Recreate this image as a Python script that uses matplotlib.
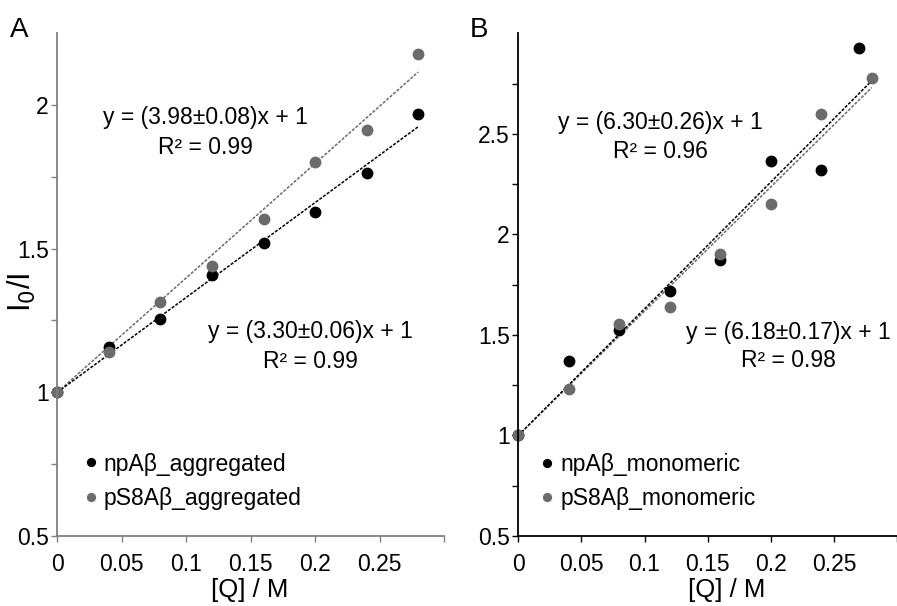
import numpy as np
import matplotlib.pyplot as plt

plt.rcParams['font.family'] = ['Liberation Sans', 'DejaVu Sans']

# Konzentration des Quenchers
q_a = [0, 0.04, 0.08, 0.12, 0.16, 0.2, 0.24, 0.28]
q_b_np = [0, 0.04, 0.08, 0.12, 0.16, 0.2, 0.24, 0.27]
q_b_ps = [0, 0.04, 0.08, 0.12, 0.16, 0.2, 0.24, 0.28]

# Panel A: aggregiert
np_agg = [1.0, 1.158, 1.255, 1.409, 1.519, 1.627, 1.762, 1.968]
ps_agg = [1.0, 1.14, 1.313, 1.439, 1.602, 1.80, 1.914, 2.177]

# Panel B: monomer
np_mono = [1.0, 1.372, 1.522, 1.72, 1.871, 2.363, 2.322, 2.927]
ps_mono = [1.0, 1.232, 1.556, 1.639, 1.902, 2.149, 2.597, 2.778]

# Steigungen der Stern-Volmer-Fits
k_np_agg, k_ps_agg = 3.30, 3.98
k_np_mono, k_ps_mono = 6.30, 6.18
fit_end = 0.28

schwarz = 'black'
grau = '#6b6b6b'
fs = 16.5

fig = plt.figure(figsize=(8.97, 6.06), dpi=100)
ax_a = fig.add_axes([57.3 / 897, 1 - 536 / 606, (444 - 57.3) / 897, (536 - 33) / 606])
ax_b = fig.add_axes([518.3 / 897, 1 - 536 / 606, (897 - 518.3) / 897, (536 - 33.3) / 606])


def stil(ax, achsenfarbe, ymax, yticks):
    for s in ['top', 'right']:
        ax.spines[s].set_visible(False)
    for s in ['left', 'bottom']:
        ax.spines[s].set_color(achsenfarbe)
        ax.spines[s].set_linewidth(1.3)
    ax.set_ylim(0.5, ymax)
    ax.set_yticks(yticks)
    ax.set_yticklabels([f'{t:g}' for t in yticks])
    ax.set_yticks(np.arange(0.75, ymax, 0.5), minor=True)
    xt = [0, 0.05, 0.1, 0.15, 0.2, 0.25, 0.3]
    ax.set_xticks(xt)
    ax.set_xticklabels(['0', '0.05', '0.1', '0.15', '0.2', '0.25', ''])
    ax.tick_params(which='both', direction='out', length=4, width=1,
                   color=achsenfarbe, labelsize=fs, pad=2)
    ax.tick_params(axis='x', pad=8)


def legende(ax, x0):
    ax.legend(loc='upper left', bbox_to_anchor=(x0, 0.166), frameon=False, fontsize=fs,
              markerscale=0.75, handlelength=0.4, handletextpad=0.35, labelspacing=0.5,
              borderaxespad=0, borderpad=0)


xf = np.array([0, fit_end])

# Panel A
ax_a.plot(xf, 1 + k_ps_agg * xf, color=grau, ls=(0, (2, 1)), lw=1.1)
ax_a.plot(xf, 1 + k_np_agg * xf, color=schwarz, ls=(0, (2, 1)), lw=1.1)
ax_a.plot(q_a, np_agg, 'o', color=schwarz, ms=7.5, label='npAβ_aggregated', clip_on=False)
ax_a.plot(q_a, ps_agg, 'o', color=grau, ms=7.5, label='pS8Aβ_aggregated', clip_on=False)
ax_a.set_xlim(0, 0.3)
stil(ax_a, '#808080', 2.25, [0.5, 1, 1.5, 2])
ax_a.text(0.1147, 1.955, 'y = (3.98±0.08)x + 1', ha='center', va='center', fontsize=fs)
ax_a.text(0.1147, 1.85, 'R² = 0.99', ha='center', va='center', fontsize=fs)
ax_a.text(0.196, 1.211, 'y = (3.30±0.06)x + 1', ha='center', va='center', fontsize=fs)
ax_a.text(0.196, 1.108, 'R² = 0.99', ha='center', va='center', fontsize=fs)
legende(ax_a, 0.075)

# Panel B
ax_b.plot(xf, 1 + k_ps_mono * xf, color=grau, ls=(0, (2, 1)), lw=1.1)
ax_b.plot(xf, 1 + k_np_mono * xf, color=schwarz, ls=(0, (2, 1)), lw=1.1)
ax_b.plot(q_b_np, np_mono, 'o', color=schwarz, ms=7.5, label='npAβ_monomeric', clip_on=False)
ax_b.plot(q_b_ps, ps_mono, 'o', color=grau, ms=7.5, label='pS8Aβ_monomeric', clip_on=False)
ax_b.set_xlim(0, (897 - 518.3) / 1296)
stil(ax_b, 'black', 3.0, [0.5, 1, 1.5, 2, 2.5])
ax_b.text(0.1124, 2.557, 'y = (6.30±0.26)x + 1', ha='center', va='center', fontsize=fs)
ax_b.text(0.1124, 2.41, 'R² = 0.96', ha='center', va='center', fontsize=fs)
ax_b.text(0.214, 1.514, 'y = (6.18±0.17)x + 1', ha='center', va='center', fontsize=fs)
ax_b.text(0.214, 1.372, 'R² = 0.98', ha='center', va='center', fontsize=fs)
legende(ax_b, 0.065)

# Beschriftungen
fig.text(250 / 897, 1 - 590 / 606, '[Q] / M', ha='center', va='center', fontsize=18.5)
fig.text(726.7 / 897, 1 - 590 / 606, '[Q] / M', ha='center', va='center', fontsize=18.5)
fig.text(22 / 897, 1 - 292 / 606, 'I$_0$/I', rotation=90, ha='center', va='center', fontsize=22)
fig.text(10 / 897, 1 - 30 / 606, 'A', ha='left', va='center', fontsize=20)
fig.text(470 / 897, 1 - 30 / 606, 'B', ha='left', va='center', fontsize=20)

fig.savefig('out.png', dpi=100)
